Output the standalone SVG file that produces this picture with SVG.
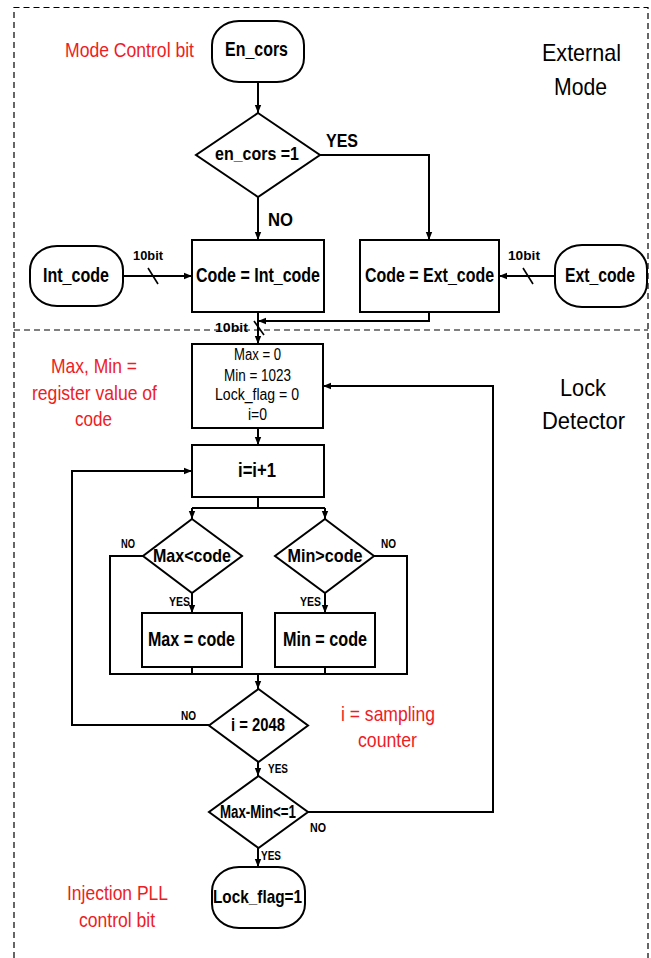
<svg xmlns="http://www.w3.org/2000/svg" width="651" height="958" viewBox="0 0 651 958">
  <style>
    .bg { fill: #ffffff; }
    .frame { fill: none; stroke: #000; stroke-width: 1.2; stroke-dasharray: 6 4; }
    .shape { fill: #fff; stroke: #000; stroke-width: 2; }
    .wire { fill: none; stroke: #000; stroke-width: 2; }
    .arrow { fill: none; stroke: #000; stroke-width: 2; marker-end: url(#head); }
    .tick { stroke: #000; stroke-width: 1.6; }
    text { font-family: "Liberation Sans", Arial, sans-serif; fill: #000; text-anchor: middle; }
    .note { fill: #ee1c25; font-size: 21px; }
    .title { font-size: 24px; }
    .lbl { font-weight: bold; font-size: 13px; }
    .big { font-weight: bold; font-size: 19px; }
    .init { font-size: 16px; }
  </style>
  <defs>
    <marker id="head" viewBox="0 0 8 8" refX="8" refY="4" markerWidth="8" markerHeight="8" markerUnits="userSpaceOnUse" orient="auto">
      <path d="M0,0.8 L8,4 L0,7.2 Z" fill="#000"/>
    </marker>
  </defs>

  <rect class="bg" x="0" y="0" width="651" height="958"/>

  <!-- dashed section frames -->
  <g id="frames">
    <path class="frame" d="M14,958 V7.5 H648 V958"/>
    <path class="frame" d="M14,330 H648"/>
  </g>

  <!-- section titles and annotations -->
  <g id="annotations">
    <text class="note" x="129.5" y="57" textLength="129" lengthAdjust="spacingAndGlyphs">Mode Control bit</text>
    <text class="title" x="581.5" y="61" textLength="79" lengthAdjust="spacingAndGlyphs">External</text>
    <text class="title" x="580.5" y="95" textLength="53" lengthAdjust="spacingAndGlyphs">Mode</text>
    <text class="note" x="94" y="373" textLength="86" lengthAdjust="spacingAndGlyphs">Max, Min =</text>
    <text class="note" x="94.5" y="400" textLength="125" lengthAdjust="spacingAndGlyphs">register value of</text>
    <text class="note" x="93.5" y="426" textLength="37" lengthAdjust="spacingAndGlyphs">code</text>
    <text class="title" x="583" y="396" textLength="46" lengthAdjust="spacingAndGlyphs">Lock</text>
    <text class="title" x="583.5" y="429" textLength="83" lengthAdjust="spacingAndGlyphs">Detector</text>
    <text class="note" x="388" y="721" textLength="94" lengthAdjust="spacingAndGlyphs">i = sampling</text>
    <text class="note" x="387.5" y="747" textLength="59" lengthAdjust="spacingAndGlyphs">counter</text>
    <text class="note" x="117.5" y="900" textLength="101" lengthAdjust="spacingAndGlyphs">Injection PLL</text>
    <text class="note" x="117" y="927" textLength="76" lengthAdjust="spacingAndGlyphs">control bit</text>
  </g>

  <!-- connectors -->
  <g id="connectors">
    <path class="arrow" d="M258,82 V113"/>
    <path class="arrow" d="M320,155 H429 V240"/>
    <path class="arrow" d="M258,197 V240"/>
    <path class="arrow" d="M123,276 H192"/>
    <line class="tick" x1="148" y1="268" x2="158" y2="284"/>
    <path class="arrow" d="M555,276 H499"/>
    <line class="tick" x1="523" y1="268" x2="533" y2="284"/>
    <path class="arrow" d="M258,312 V344"/>
    <line class="tick" x1="254" y1="321" x2="264" y2="335"/>
    <path class="arrow" d="M429,312 V321 H258"/>
    <path class="arrow" d="M258,428 V445"/>
    <path class="wire" d="M258,497 V508 M192,508 H325"/>
    <path class="arrow" d="M192,508 V519"/>
    <path class="arrow" d="M325,508 V519"/>
    <path class="arrow" d="M192,593 V613"/>
    <path class="arrow" d="M325,593 V613"/>
    <path class="wire" d="M143,556 H110 V674 H407 V556 H374"/>
    <path class="wire" d="M192,667 V674 M325,667 V674"/>
    <path class="arrow" d="M258,674 V689"/>
    <path class="arrow" d="M209,725 H72 V471 H192"/>
    <path class="arrow" d="M258,762 V776"/>
    <path class="arrow" d="M308,812 H493 V386 H323"/>
    <path class="arrow" d="M258,848 V867"/>
    <!-- connector labels -->
    <text class="big" x="342" y="147" textLength="32" lengthAdjust="spacingAndGlyphs">YES</text>
    <text class="big" x="280.5" y="226" textLength="25" lengthAdjust="spacingAndGlyphs">NO</text>
    <text class="lbl" x="148" y="260" textLength="30" lengthAdjust="spacingAndGlyphs">10bit</text>
    <text class="lbl" x="524" y="260" textLength="32" lengthAdjust="spacingAndGlyphs">10bit</text>
    <text class="lbl" x="231.5" y="332" textLength="33" lengthAdjust="spacingAndGlyphs">10bit</text>
    <text class="lbl" x="128" y="548" textLength="14" lengthAdjust="spacingAndGlyphs">NO</text>
    <text class="lbl" x="388.5" y="548" textLength="15" lengthAdjust="spacingAndGlyphs">NO</text>
    <text class="lbl" x="179.5" y="606" textLength="21" lengthAdjust="spacingAndGlyphs">YES</text>
    <text class="lbl" x="310.5" y="606" textLength="21" lengthAdjust="spacingAndGlyphs">YES</text>
    <text class="lbl" x="188.5" y="720" textLength="15" lengthAdjust="spacingAndGlyphs">NO</text>
    <text class="lbl" x="278" y="773" textLength="20" lengthAdjust="spacingAndGlyphs">YES</text>
    <text class="lbl" x="318" y="832" textLength="16" lengthAdjust="spacingAndGlyphs">NO</text>
    <text class="lbl" x="271" y="860" textLength="20" lengthAdjust="spacingAndGlyphs">YES</text>
  </g>

  <!-- nodes -->
  <g id="en_cors">
    <rect class="shape" x="212" y="21" width="92" height="61" rx="27" ry="24"/>
    <text class="big" x="256.5" y="56" style="font-size:20px" textLength="63" lengthAdjust="spacingAndGlyphs">En_cors</text>
  </g>
  <g id="check_en_cors">
    <polygon class="shape" points="258,113 320,155 258,197 196,155"/>
    <text class="big" x="257" y="160" textLength="84" lengthAdjust="spacingAndGlyphs">en_cors =1</text>
  </g>
  <g id="int_code">
    <rect class="shape" x="30" y="246" width="93" height="60" rx="27" ry="24"/>
    <text class="big" x="76" y="282" style="font-size:20px" textLength="66" lengthAdjust="spacingAndGlyphs">Int_code</text>
  </g>
  <g id="code_int">
    <rect class="shape" x="192" y="240" width="132" height="72"/>
    <text class="big" x="258" y="282" style="font-size:20px" textLength="124" lengthAdjust="spacingAndGlyphs">Code = Int_code</text>
  </g>
  <g id="code_ext">
    <rect class="shape" x="360" y="240" width="139" height="72"/>
    <text class="big" x="429.5" y="282" style="font-size:20px" textLength="129" lengthAdjust="spacingAndGlyphs">Code = Ext_code</text>
  </g>
  <g id="ext_code">
    <rect class="shape" x="555" y="245" width="92" height="62" rx="27" ry="24"/>
    <text class="big" x="600" y="282" style="font-size:20px" textLength="70" lengthAdjust="spacingAndGlyphs">Ext_code</text>
  </g>
  <g id="init">
    <rect class="shape" x="192" y="344" width="131" height="84"/>
    <text class="init" x="257.5" y="360" textLength="47" lengthAdjust="spacingAndGlyphs">Max = 0</text>
    <text class="init" x="257.5" y="381" textLength="67" lengthAdjust="spacingAndGlyphs">Min = 1023</text>
    <text class="init" x="257" y="400" textLength="84" lengthAdjust="spacingAndGlyphs">Lock_flag = 0</text>
    <text class="init" x="257.5" y="420" textLength="19" lengthAdjust="spacingAndGlyphs">i=0</text>
  </g>
  <g id="increment">
    <rect class="shape" x="192" y="445" width="132" height="52"/>
    <text class="big" x="257" y="477" style="font-size:20px" textLength="38" lengthAdjust="spacingAndGlyphs">i=i+1</text>
  </g>
  <g id="max_check">
    <polygon class="shape" points="192,519 242,556 192,593 143,556"/>
    <text class="big" x="192" y="562" textLength="78" lengthAdjust="spacingAndGlyphs">Max&lt;code</text>
  </g>
  <g id="min_check">
    <polygon class="shape" points="325,519 374,556 325,593 275,556"/>
    <text class="big" x="325" y="562" textLength="75" lengthAdjust="spacingAndGlyphs">Min&gt;code</text>
  </g>
  <g id="max_set">
    <rect class="shape" x="142" y="613" width="100" height="54"/>
    <text class="big" x="191.5" y="646" style="font-size:20px" textLength="87" lengthAdjust="spacingAndGlyphs">Max = code</text>
  </g>
  <g id="min_set">
    <rect class="shape" x="275" y="613" width="100" height="54"/>
    <text class="big" x="325" y="646" style="font-size:20px" textLength="84" lengthAdjust="spacingAndGlyphs">Min = code</text>
  </g>
  <g id="count_check">
    <polygon class="shape" points="258.5,689 308,725.5 258.5,762 209,725.5"/>
    <text class="big" x="258" y="731" style="font-size:18px" textLength="54" lengthAdjust="spacingAndGlyphs">i = 2048</text>
  </g>
  <g id="range_check">
    <polygon class="shape" points="258.5,776 308,812 258.5,848 209,812"/>
    <text class="big" x="258" y="818" style="font-size:18px" textLength="76" lengthAdjust="spacingAndGlyphs">Max-Min&lt;=1</text>
  </g>
  <g id="lock_flag">
    <rect class="shape" x="212" y="867" width="93" height="61" rx="27" ry="24"/>
    <text class="big" x="257.5" y="903" style="font-size:19px" textLength="89" lengthAdjust="spacingAndGlyphs">Lock_flag=1</text>
  </g>
</svg>
